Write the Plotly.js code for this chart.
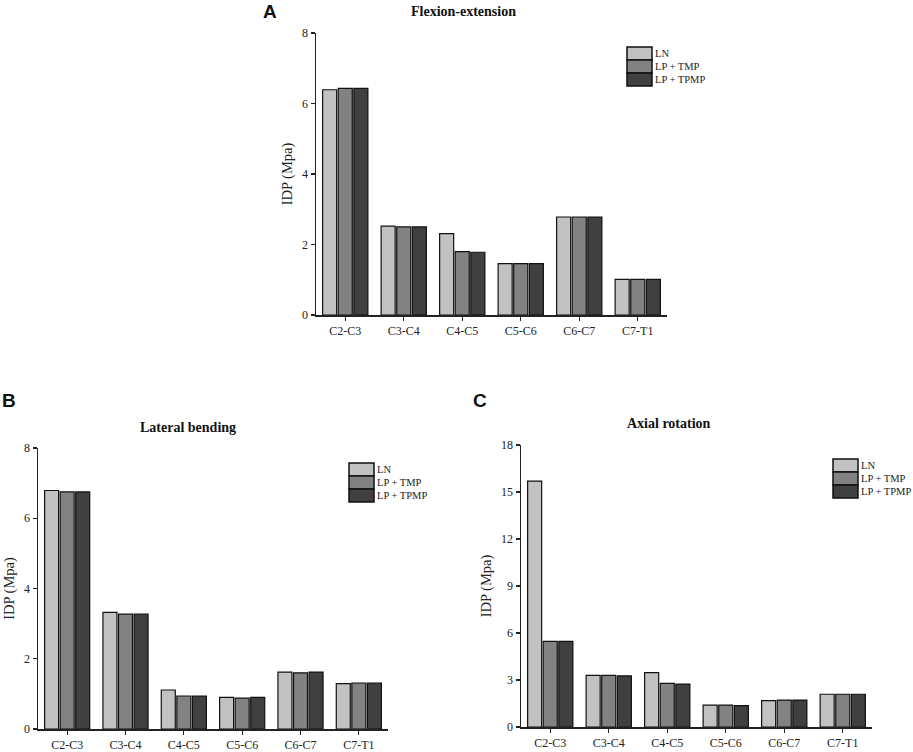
<!DOCTYPE html>
<html>
<head>
<meta charset="utf-8">
<script src="https://cdn.plot.ly/plotly-3.0.1.min.js"></script>
<style>html,body{margin:0;padding:0;background:#fff;}#chart{width:913px;height:752px;}</style>
</head>
<body>
<div id="chart"></div>
<script>
// ---- data ----
const categories = ['C2-C3', 'C3-C4', 'C4-C5', 'C5-C6', 'C6-C7', 'C7-T1'];
const seriesNames = ['LN', 'LP + TMP', 'LP + TPMP'];
const panelTitles = ['Flexion-extension', 'Lateral bending', 'Axial rotation'];
const panelLetters = ['A', 'B', 'C'];
const yTitle = 'IDP (Mpa)';

const flexLN   = [6.39, 2.52, 2.31, 1.46, 2.78, 1.01];
const flexTMP  = [6.43, 2.50, 1.80, 1.46, 2.78, 1.01];
const flexTPMP = [6.43, 2.50, 1.78, 1.46, 2.78, 1.01];

const latLN    = [6.79, 3.32, 1.11, 0.90, 1.62, 1.29];
const latTMP   = [6.75, 3.27, 0.94, 0.88, 1.60, 1.31];
const latTPMP  = [6.75, 3.27, 0.94, 0.90, 1.62, 1.31];

const axLN     = [15.70, 3.30, 3.47, 1.40, 1.68, 2.09];
const axTMP    = [5.47, 3.30, 2.79, 1.40, 1.72, 2.09];
const axTPMP   = [5.47, 3.26, 2.74, 1.36, 1.72, 2.09];

const yTicksA = [0, 2, 4, 6, 8];
const yTicksB = [0, 2, 4, 6, 8];
const yTicksC = [0, 3, 6, 9, 12, 15, 18];

// ---- styling ----
const W = 913, H = 752;
const colors = ['#c2c2c2', '#828282', '#404040'];
const serif = 'Liberation Serif';
const ink = '#222';
const px = x => x / W;
const py = y => 1 - y / H;

const panels = [
  {vals: [flexLN, flexTMP, flexTPMP], xa: 'x',  ya: 'y',  ticks: yTicksA,
   dom: [316, 667], ydom: [315, 33],  title: [463, 12], letter: [270, 12], legend: [627, 47]},
  {vals: [latLN, latTMP, latTPMP],    xa: 'x2', ya: 'y2', ticks: yTicksB,
   dom: [38, 388],  ydom: [729, 448], title: [188, 427], letter: [9, 400],  legend: [349, 463]},
  {vals: [axLN, axTMP, axTPMP],       xa: 'x3', ya: 'y3', ticks: yTicksC,
   dom: [521, 872], ydom: [727, 445], title: [669, 423], letter: [480, 400], legend: [833, 459]}
];

const traces = [];
const layout = {
  width: W, height: H,
  margin: {l: 0, r: 0, t: 0, b: 0},
  paper_bgcolor: '#fff', plot_bgcolor: '#fff',
  barmode: 'group', bargap: 0.2, bargroupgap: 0.1,
  showlegend: false,
  font: {family: serif, color: ink},
  annotations: [], shapes: []
};

panels.forEach((p, i) => {
  seriesNames.forEach((name, s) => {
    traces.push({
      type: 'bar', name: name, x: categories, y: p.vals[s],
      xaxis: p.xa, yaxis: p.ya,
      marker: {color: colors[s], line: {color: '#111', width: 1.2}},
      hoverinfo: 'x+y+name'
    });
  });
  const xk = i === 0 ? 'xaxis' : 'xaxis' + (i + 1);
  const yk = i === 0 ? 'yaxis' : 'yaxis' + (i + 1);
  const ymax = p.ticks[p.ticks.length - 1];
  layout[xk] = {
    domain: [px(p.dom[0]), px(p.dom[1])], anchor: p.ya,
    type: 'category', range: [-0.5, categories.length - 0.5],
    showline: true, linecolor: ink, linewidth: 1.5,
    ticks: 'outside', ticklen: 4, tickwidth: 1.2, tickcolor: ink,
    tickfont: {family: serif, size: 12, color: ink},
    showgrid: false, zeroline: false, automargin: false, fixedrange: true
  };
  layout[yk] = {
    domain: [py(p.ydom[0]), py(p.ydom[1])], anchor: p.xa,
    range: [0, ymax], tickvals: p.ticks,
    showline: true, linecolor: ink, linewidth: 1.5,
    ticks: 'outside', ticklen: 4, tickwidth: 1.2, tickcolor: ink,
    tickfont: {family: serif, size: 12, color: ink},
    showgrid: false, zeroline: false, automargin: false, fixedrange: true,
    title: {text: yTitle, font: {family: serif, size: 14.5, color: ink}, standoff: 6}
  };
  // panel letter
  layout.annotations.push({
    xref: 'paper', yref: 'paper', x: px(p.letter[0]), y: py(p.letter[1]),
    xanchor: 'center', yanchor: 'middle', showarrow: false,
    text: '<b>' + panelLetters[i] + '</b>',
    font: {family: 'Liberation Sans', size: 19, color: '#111'}
  });
  // panel title
  layout.annotations.push({
    xref: 'paper', yref: 'paper', x: px(p.title[0]), y: py(p.title[1]),
    xanchor: 'center', yanchor: 'middle', showarrow: false,
    text: '<b>' + panelTitles[i] + '</b>',
    font: {family: serif, size: 14, color: '#111'}
  });
  // legend
  const lx = p.legend[0], ly = p.legend[1], bw = 25, bh = 13;
  seriesNames.forEach((name, s) => {
    layout.shapes.push({
      type: 'rect', xref: 'paper', yref: 'paper',
      x0: px(lx), x1: px(lx + bw), y0: py(ly + s * bh), y1: py(ly + (s + 1) * bh),
      fillcolor: colors[s], line: {color: '#111', width: 1.5}
    });
    layout.annotations.push({
      xref: 'paper', yref: 'paper', x: px(lx + bw + 1), y: py(ly + s * bh + bh / 2),
      xanchor: 'left', yanchor: 'middle', showarrow: false,
      text: name, font: {family: serif, size: 10.5, color: ink}
    });
  });
});

Plotly.newPlot('chart', traces, layout, {displayModeBar: false, staticPlot: true});
</script>
</body>
</html>
